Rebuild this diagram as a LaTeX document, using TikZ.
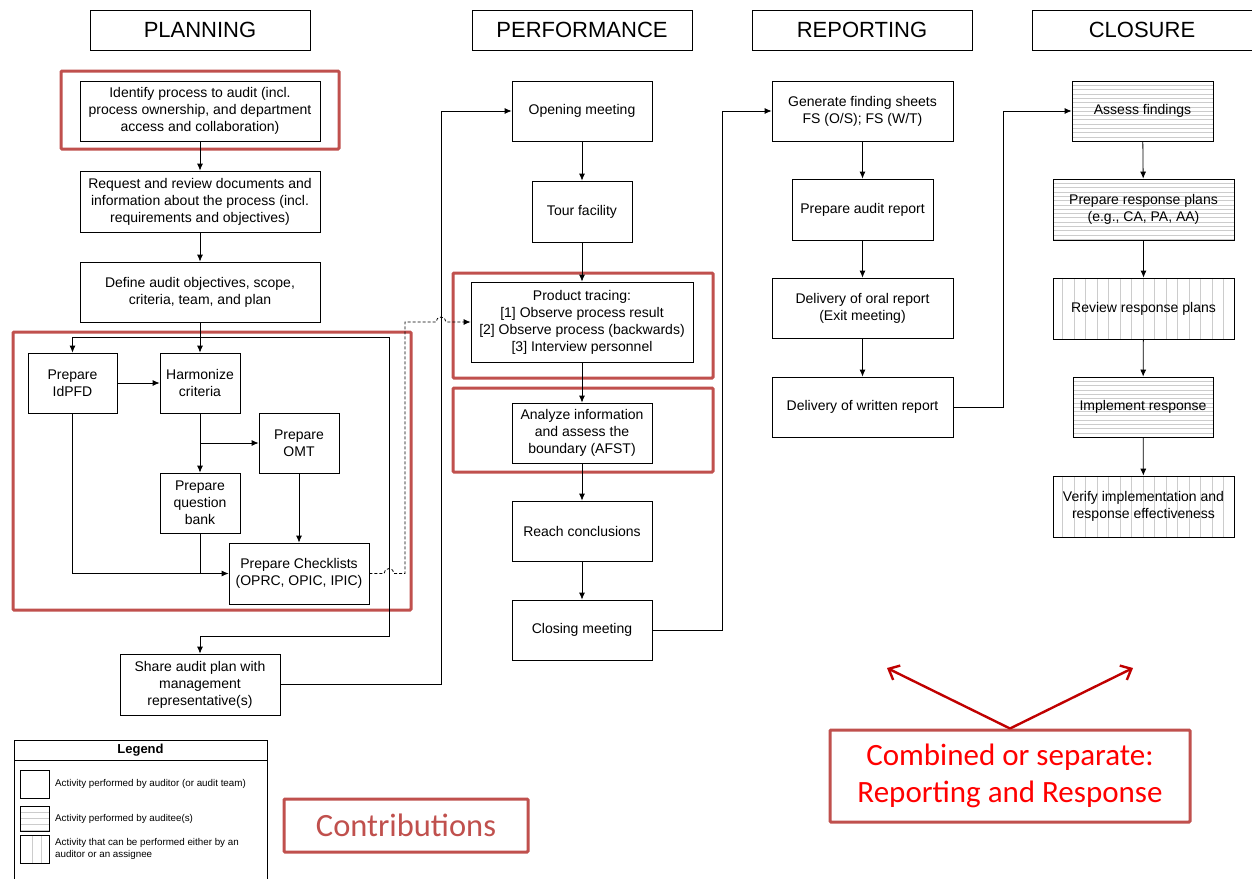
\documentclass[tikz,border=0pt]{standalone}
\usepackage{fontspec}
\setmainfont{Liberation Sans}
\newfontfamily\calib{Carlito}
\usetikzlibrary{arrows.meta}

\definecolor{frame}{HTML}{C0504D}
\definecolor{hatch}{HTML}{CCCCCC}
\definecolor{notered}{HTML}{C00000}
\definecolor{notetext}{HTML}{FF0000}

\begin{document}
\begin{tikzpicture}[x=1pt,y=-1pt,
  sz/.style 2 args={minimum width=#1pt, minimum height=#2pt},
  box/.style={draw, line width=0.8pt, align=center, inner sep=0pt,
    font=\fontsize{14}{17}\selectfont},
  head/.style={draw, line width=0.8pt, inner sep=0pt, minimum width=220pt,
    minimum height=40pt, font=\fontsize{22}{26}\selectfont},
  hbars/.style={path picture={
    \foreach \k in {1,...,16}{
      \draw[hatch, line width=0.6pt]
        ([yshift=-\k*#1 pt]path picture bounding box.north west) --
        ([yshift=-\k*#1 pt]path picture bounding box.north east);}}},
  hbars/.default=4.3,
  vbars/.style={path picture={
    \foreach \k in {0,...,16}{
      \draw[hatch, line width=0.6pt]
        ([xshift=9.3pt+\k*#1 pt]path picture bounding box.north west) --
        ([xshift=9.3pt+\k*#1 pt]path picture bounding box.south west);}}},
  vbars/.default=11.5,
  flow/.style={line width=0.8pt, -{Latex[length=7pt,width=6pt]}},
  link/.style={line width=0.8pt},
  hop/.style={line width=0.8pt, dash pattern=on 3pt off 2pt, -{Latex[length=7pt,width=6pt]}},
  redframe/.style={draw=frame, line width=3pt, rounded corners=1pt},
  legtext/.style={anchor=west, inner sep=0pt, align=left, font=\fontsize{9.8}{12}\selectfont},
  note/.style={line width=2.4pt, notered, -{Straight Barb[length=9pt,width=16pt,line width=2.4pt]}}
]
\fill[white] (0,0) rectangle (1252,878);
\useasboundingbox (0,0) rectangle (1252,878);

% column headings
\node[head] (hplan) at (200,30) {PLANNING};
\node[head] (hperf) at (582,30) {PERFORMANCE};
\node[head] (hrep)  at (862,30) {REPORTING};
\node[head] (hclo)  at (1142,30) {CLOSURE};

% highlighted contribution frames
\draw[redframe] (61,71) rectangle (339,149);
\draw[redframe] (13,332) rectangle (411,610);
\draw[redframe] (453,273) rectangle (713,378);
\draw[redframe] (453,388) rectangle (713,472);

% planning
\node[box, sz={240}{60}] (ident) at (200,111)
  {Identify process to audit (incl.\\process ownership, and department\\access and collaboration)};
\node[box, sz={240}{61}] (req) at (200,201.5)
  {Request and review documents and\\information about the process (incl.\\requirements and objectives)};
\node[box, sz={240}{60}] (def) at (200,292)
  {Define audit objectives, scope,\\criteria, team, and plan};
\node[box, sz={89}{60}] (idpfd) at (72.5,383) {Prepare\\IdPFD};
\node[box, sz={80}{60}] (harm) at (200,383) {Harmonize\\criteria};
\node[box, sz={80}{60}] (omt) at (299,443) {Prepare\\OMT};
\node[box, sz={80}{60}] (qbank) at (200,503) {Prepare\\question\\bank};
\node[box, sz={140}{61}] (check) at (299,573.5) {Prepare Checklists\\(OPRC, OPIC, IPIC)};
\node[box, sz={160}{61}] (share) at (200,684.5)
  {Share audit plan with\\management\\representative(s)};

% performance
\node[box, sz={140}{60}] (open) at (582,111) {Opening meeting};
\node[box, sz={100}{61}] (tour) at (582,211.5) {Tour facility};
\node[box, sz={222}{80}] (trace) at (582,322)
  {Product tracing:\\{[1]} Observe process result\\{[2]} Observe process (backwards)\\{[3]} Interview personnel};
\node[box, sz={140}{60}] (analyze) at (582,433)
  {Analyze information\\and assess the\\boundary (AFST)};
\node[box, sz={140}{60}] (reach) at (582,531) {Reach conclusions};
\node[box, sz={140}{60}] (closing) at (582,630) {Closing meeting};

% reporting
\node[box, sz={181}{60}] (gen) at (862.5,111) {Generate finding sheets\\FS (O/S); FS (W/T)};
\node[box, sz={141}{61}] (prep) at (862.5,209.5) {Prepare audit report};
\node[box, sz={181}{60}] (oral) at (862.5,308) {Delivery of oral report\\(Exit meeting)};
\node[box, sz={181}{60}] (written) at (862.5,407) {Delivery of written report};

% closure
\node[box, hbars, sz={141}{60}] (assess) at (1142.5,111) {Assess findings};
\node[box, hbars, sz={181}{61}] (plans) at (1143.5,209.5) {Prepare response plans\\(e.g., CA, PA, AA)};
\node[box, vbars, sz={181}{61}] (review) at (1143.5,308.5) {Review response plans};
\node[box, hbars, sz={140}{60}] (impl) at (1143,407) {Implement response};
\node[box, vbars, sz={181}{61}] (verify) at (1143.5,506.5)
  {Verify implementation and\\response effectiveness};

% planning connectors
\coordinate (j1) at (200,337);
\coordinate (j2) at (200,443);
\draw[flow] (ident) -- (req);
\draw[flow] (req) -- (def);
\draw[flow] (def) -- (harm);
\draw[flow] (j1) -| (idpfd.north);
\draw[flow] (j1) -- (389,337) -- (389,636) -| (share.north);
\draw[flow] (idpfd) -- (harm);
\draw[flow] (harm) -- (qbank);
\draw[flow] (j2) -- (omt.west);
\draw[flow] (omt) -- (check);
\draw[flow] (idpfd.south) |- (check.west);
\draw[link] (qbank.south) -- (qbank.south |- check.west);
\draw[hop] (check.east) -- (384,573.5) arc[start angle=180, end angle=0, radius=5pt]
  -- (405,573.5) -- (405,322) -- (436,322) arc[start angle=180, end angle=0, radius=5pt]
  -- (trace.west);
\draw[flow] (share.east) -- ++(161,0) |- (open.west);

% performance connectors
\draw[flow] (open) -- (tour);
\draw[flow] (tour) -- (trace);
\draw[flow] (trace) -- (analyze);
\draw[flow] (analyze) -- (reach);
\draw[flow] (reach) -- (closing);
\draw[flow] (closing.east) -- ++(70,0) |- (gen.west);

% reporting connectors
\draw[flow] (gen) -- (prep);
\draw[flow] (prep) -- (oral);
\draw[flow] (oral) -- (written);
\draw[flow] (written.east) -- ++(50,0) |- (assess.west);

% closure connectors
\draw[flow] (assess) -- (plans);
\draw[flow] (plans) -- (review);
\draw[flow] (review) -- (impl);
\draw[flow] (impl) -- (verify);

% legend
\draw[link] (14,880) |- (267,740) -- (267,880);
\draw[link] (14,760) -- (267,760);
\node[font=\fontsize{13}{15}\selectfont\bfseries] (legtitle) at (140.5,750) {Legend};
\node[draw, line width=0.8pt, sz={29}{28}] (lg1) at (34.5,784) {};
\node[draw, line width=0.8pt, hbars=6, sz={29}{25}] (lg2) at (34.5,818.5) {};
\node[draw, line width=0.8pt, sz={29}{28},
  path picture={\draw[hatch, line width=0.7pt]
    ([xshift=12pt]path picture bounding box.north west) -- ([xshift=12pt]path picture bounding box.south west)
    ([xshift=21pt]path picture bounding box.north west) -- ([xshift=21pt]path picture bounding box.south west);}]
  (lg3) at (34.5,849) {};
\node[legtext] (lt1) at (55,784) {Activity performed by auditor (or audit team)};
\node[legtext] (lt2) at (55,818.5) {Activity performed by auditee(s)};
\node[legtext] (lt3) at (55,849) {Activity that can be performed either by an\\auditor or an assignee};

% notes
\node[redframe, sz={244}{53}, text=frame, font=\calib\fontsize{32.5}{37}\selectfont]
  (contrib) at (406,825.5) {Contributions};
\node[redframe, sz={360}{92}, align=center, text=notetext,
  font=\calib\fontsize{31}{37}\selectfont]
  (combined) at (1010,776) {Combined or separate:\\Reporting and Response};
\coordinate (tipL) at (887,668);
\coordinate (tipR) at (1133,668);
\draw[note] (combined.north) -- (tipL);
\draw[note] (combined.north) -- (tipR);
\end{tikzpicture}
\end{document}
